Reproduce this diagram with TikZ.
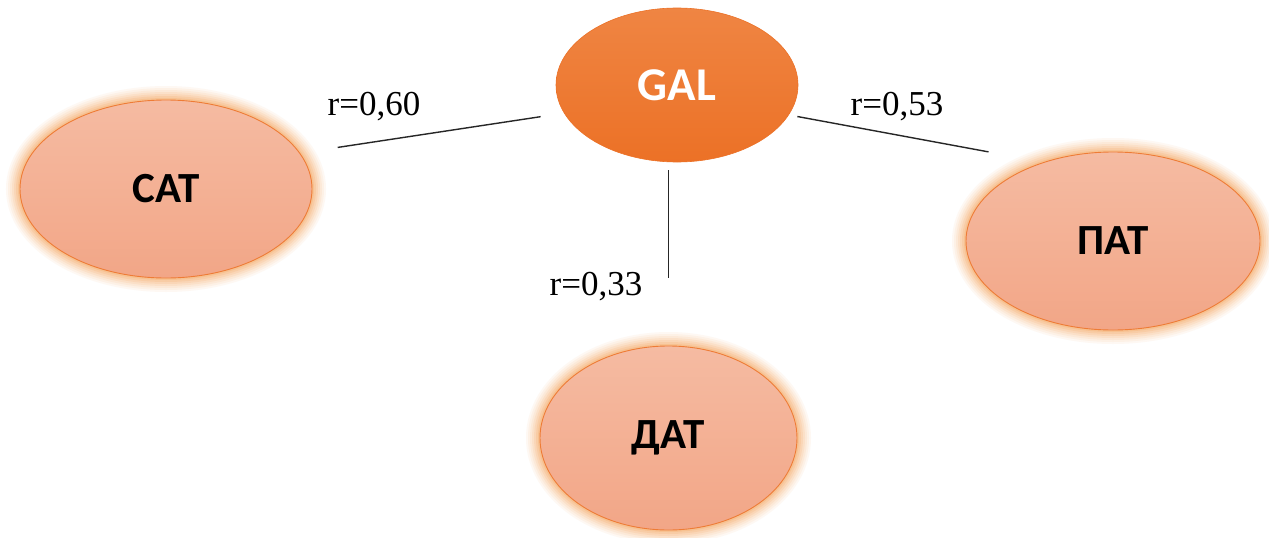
\documentclass[tikz,border=0pt]{standalone}
\usepackage{fontspec}
\setmainfont{Liberation Serif}
\newfontfamily\boxfont{Carlito}
\usetikzlibrary{shapes.geometric}
\definecolor{glowc}{HTML}{F3953F}
\definecolor{peachtop}{HTML}{F5BBA2}
\definecolor{peachbot}{HTML}{F2A687}
\definecolor{peachborder}{HTML}{EE7C36}
\definecolor{galtop}{HTML}{EF8543}
\definecolor{galbot}{HTML}{EC7126}
\tikzset{
  glowy/.style={
    preaction={draw=glowc, line width=28pt, draw opacity=0.06},
    preaction={draw=glowc, line width=24pt, draw opacity=0.07},
    preaction={draw=glowc, line width=20pt, draw opacity=0.08},
    preaction={draw=glowc, line width=16pt, draw opacity=0.10},
    preaction={draw=glowc, line width=12pt, draw opacity=0.12},
    preaction={draw=glowc, line width=8pt, draw opacity=0.15},
    preaction={draw=glowc, line width=4pt, draw opacity=0.2}},
  peach/.style={ellipse, glowy, inner sep=0pt, outer sep=0pt,
    top color=peachtop, bottom color=peachbot, draw=peachborder, line width=0.9pt,
    font=\boxfont\bfseries\fontsize{43}{43}\selectfont, text=black},
  galstyle/.style={ellipse, inner sep=0pt, outer sep=0pt,
    top color=galtop, bottom color=galbot, draw=galbot, line width=0.6pt,
    font=\boxfont\bfseries\fontsize{47}{47}\selectfont, text=white},
  rlabel/.style={anchor=base, inner sep=0pt, font=\fontsize{35}{35}\selectfont},
  link/.style={draw=black!85, line width=1.4pt}
}
\begin{document}
\begin{tikzpicture}[x=1pt, y=-1pt]
\useasboundingbox (0,0) rectangle (1269,538);
\fill[white] (0,0) rectangle (1269,538);
\node[galstyle, minimum width=242pt, minimum height=154pt] (gal) at (677,85) {GAL};
\node[peach, minimum width=292pt, minimum height=178pt] (cat) at (166,189) {САТ};
\node[peach, minimum width=294pt, minimum height=178pt] (pat) at (1113,241) {ПАТ};
\node[peach, minimum width=257pt, minimum height=184pt] (dat) at (668.5,438) {ДАТ};
\draw[link, shorten <=38.5pt, shorten >=24pt] (cat.15) -- (gal.194);
\draw[link, shorten <=9pt, shorten >=57pt] (gal.-15) -- (pat.131);
\draw[link, shorten <=8pt, shorten >=68pt] (gal.south -| dat.north) -- (dat.north);
\node[rlabel] (l60) at (374,115) {r=0,60};
\node[rlabel] (l53) at (897,115) {r=0,53};
\node[rlabel] (l33) at (596,295) {r=0,33};
\end{tikzpicture}
\end{document}
